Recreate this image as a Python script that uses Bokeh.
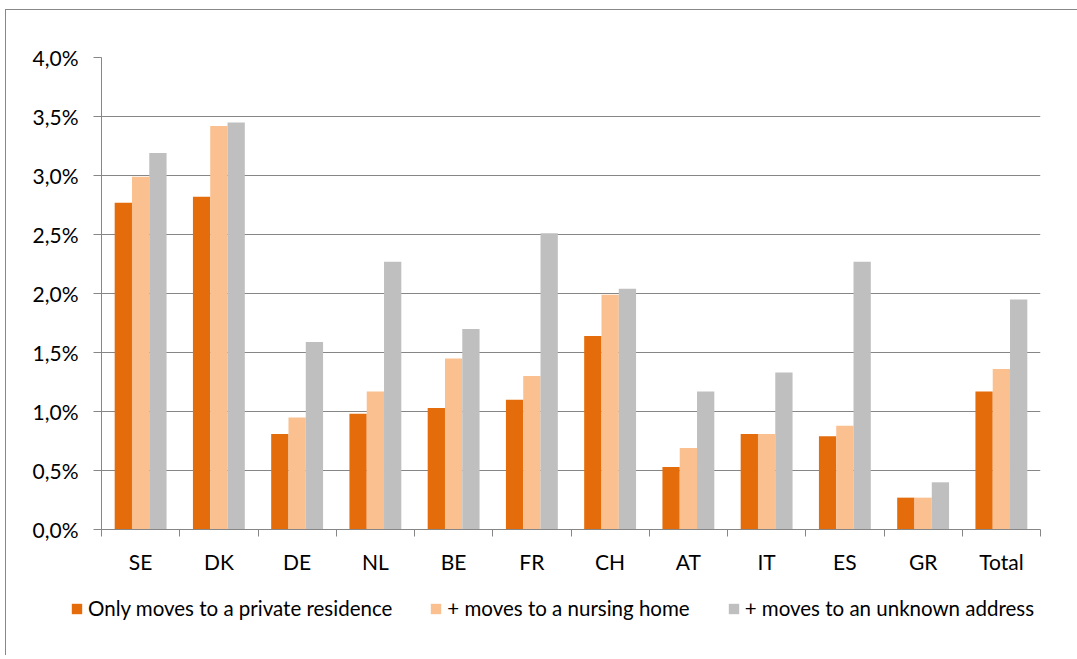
from bokeh.plotting import figure
from bokeh.layouts import column, row
from bokeh.models import ColumnDataSource, Range1d, FixedTicker, CustomJSTickFormatter, Legend, LegendItem
from bokeh.transform import dodge
from bokeh.embed import file_html
from bokeh.resources import INLINE

categories = ["SE", "DK", "DE", "NL", "BE", "FR", "CH", "AT", "IT", "ES", "GR", "Total"]
private_only = [2.77, 2.82, 0.81, 0.98, 1.03, 1.10, 1.64, 0.53, 0.81, 0.79, 0.27, 1.17]
plus_nursing = [2.99, 3.42, 0.95, 1.17, 1.45, 1.30, 1.99, 0.69, 0.81, 0.88, 0.27, 1.36]
plus_unknown = [3.19, 3.45, 1.59, 2.27, 1.70, 2.51, 2.04, 1.17, 1.33, 2.27, 0.40, 1.95]
series_names = ["Only moves to a private residence", "+ moves to a nursing home", "+ moves to an unknown address"]
y_ticks = [0.0, 0.5, 1.0, 1.5, 2.0, 2.5, 3.0, 3.5, 4.0]

colors = ["#E46C0A", "#FAC090", "#BFBFBF"]
FONT = "Lato"
FS = "21px"
LFS = "20.5px"
GRID = "#868686"

src = ColumnDataSource(dict(
    pos=[i + 0.5 for i in range(len(categories))],
    a=private_only, b=plus_nursing, c=plus_unknown,
))

p = figure(width=1071, height=569, output_backend="svg", toolbar_location=None,
           x_range=Range1d(0, len(categories)), y_range=Range1d(0, 4.0),
           min_border_left=95, min_border_right=37, min_border_top=47, min_border_bottom=50)
p.outline_line_color = None
p.background_fill_color = "white"
p.border_fill_color = "white"

bw = 0.221
p.vbar(x=dodge("pos", -bw, range=p.x_range), top="a", width=bw, source=src, fill_color=colors[0], line_color=None)
p.vbar(x=dodge("pos", 0, range=p.x_range), top="b", width=bw, source=src, fill_color=colors[1], line_color=None)
p.vbar(x=dodge("pos", bw, range=p.x_range), top="c", width=bw, source=src, fill_color=colors[2], line_color=None)

# y axis
p.yaxis.ticker = FixedTicker(ticks=y_ticks)
p.yaxis.formatter = CustomJSTickFormatter(code="return tick.toFixed(1).replace('.', ',') + '%';")
p.yaxis.axis_line_color = GRID
p.yaxis.major_tick_line_color = GRID
p.yaxis.major_tick_out = 8
p.yaxis.major_tick_in = 0
p.yaxis.minor_tick_line_color = None
p.yaxis.major_label_text_font = FONT
p.yaxis.major_label_text_font_size = FS
p.yaxis.major_label_text_color = "#000000"
p.yaxis.major_label_standoff = 15
p.ygrid.grid_line_color = GRID
p.ygrid.grid_line_width = 1

# x axis: labels at category centers, ticks at category boundaries
p.xaxis.ticker = FixedTicker(ticks=[i + 0.5 for i in range(len(categories))],
                             minor_ticks=list(range(len(categories) + 1)))
p.xaxis.formatter = CustomJSTickFormatter(args=dict(labels=categories),
                                          code="return labels[Math.round(tick - 0.5)];")
p.xaxis.axis_line_color = GRID
p.xaxis.major_tick_line_color = None
p.xaxis.major_tick_out = 0
p.xaxis.major_tick_in = 0
p.xaxis.minor_tick_line_color = GRID
p.xaxis.minor_tick_out = 7
p.xaxis.minor_tick_in = 0
p.xaxis.major_label_text_font = FONT
p.xaxis.major_label_text_font_size = FS
p.xaxis.major_label_text_color = "#000000"
p.xaxis.major_label_standoff = 12
p.xgrid.grid_line_color = None

# legend strip below the chart (same series, renderers hidden; only the legend shows)
lg = figure(width=1071, height=76, output_backend="svg", toolbar_location=None,
            x_range=Range1d(-100, -88), y_range=Range1d(-2, -1),
            x_axis_location=None, y_axis_location=None,
            min_border_left=64, min_border_right=37, min_border_top=0, min_border_bottom=0)
lg.outline_line_color = None
lg.grid.visible = False
lr = [lg.vbar(x="pos", top=k, width=bw, source=src, fill_color=c, line_color=None, visible=False)
      for k, c in zip(["a", "b", "c"], colors)]
legend = Legend(items=[LegendItem(label=n, renderers=[r]) for n, r in zip(series_names, lr)],
                orientation="horizontal", location=(0, 35),
                glyph_width=13, glyph_height=13, label_standoff=5, spacing=37,
                padding=0, margin=0, border_line_color=None, background_fill_alpha=0,
                inactive_fill_alpha=0,
                label_text_font=FONT, label_text_font_size=LFS, label_text_color="#000000")
lg.add_layout(legend, "center")

layout = column(p, row(lg), spacing=0,
                styles={"margin-left": "5px", "margin-top": "9px",
                        "border-left": "1px solid #888888", "border-top": "1px solid #888888"})

open("out.html", "w").write(file_html(layout, INLINE))
